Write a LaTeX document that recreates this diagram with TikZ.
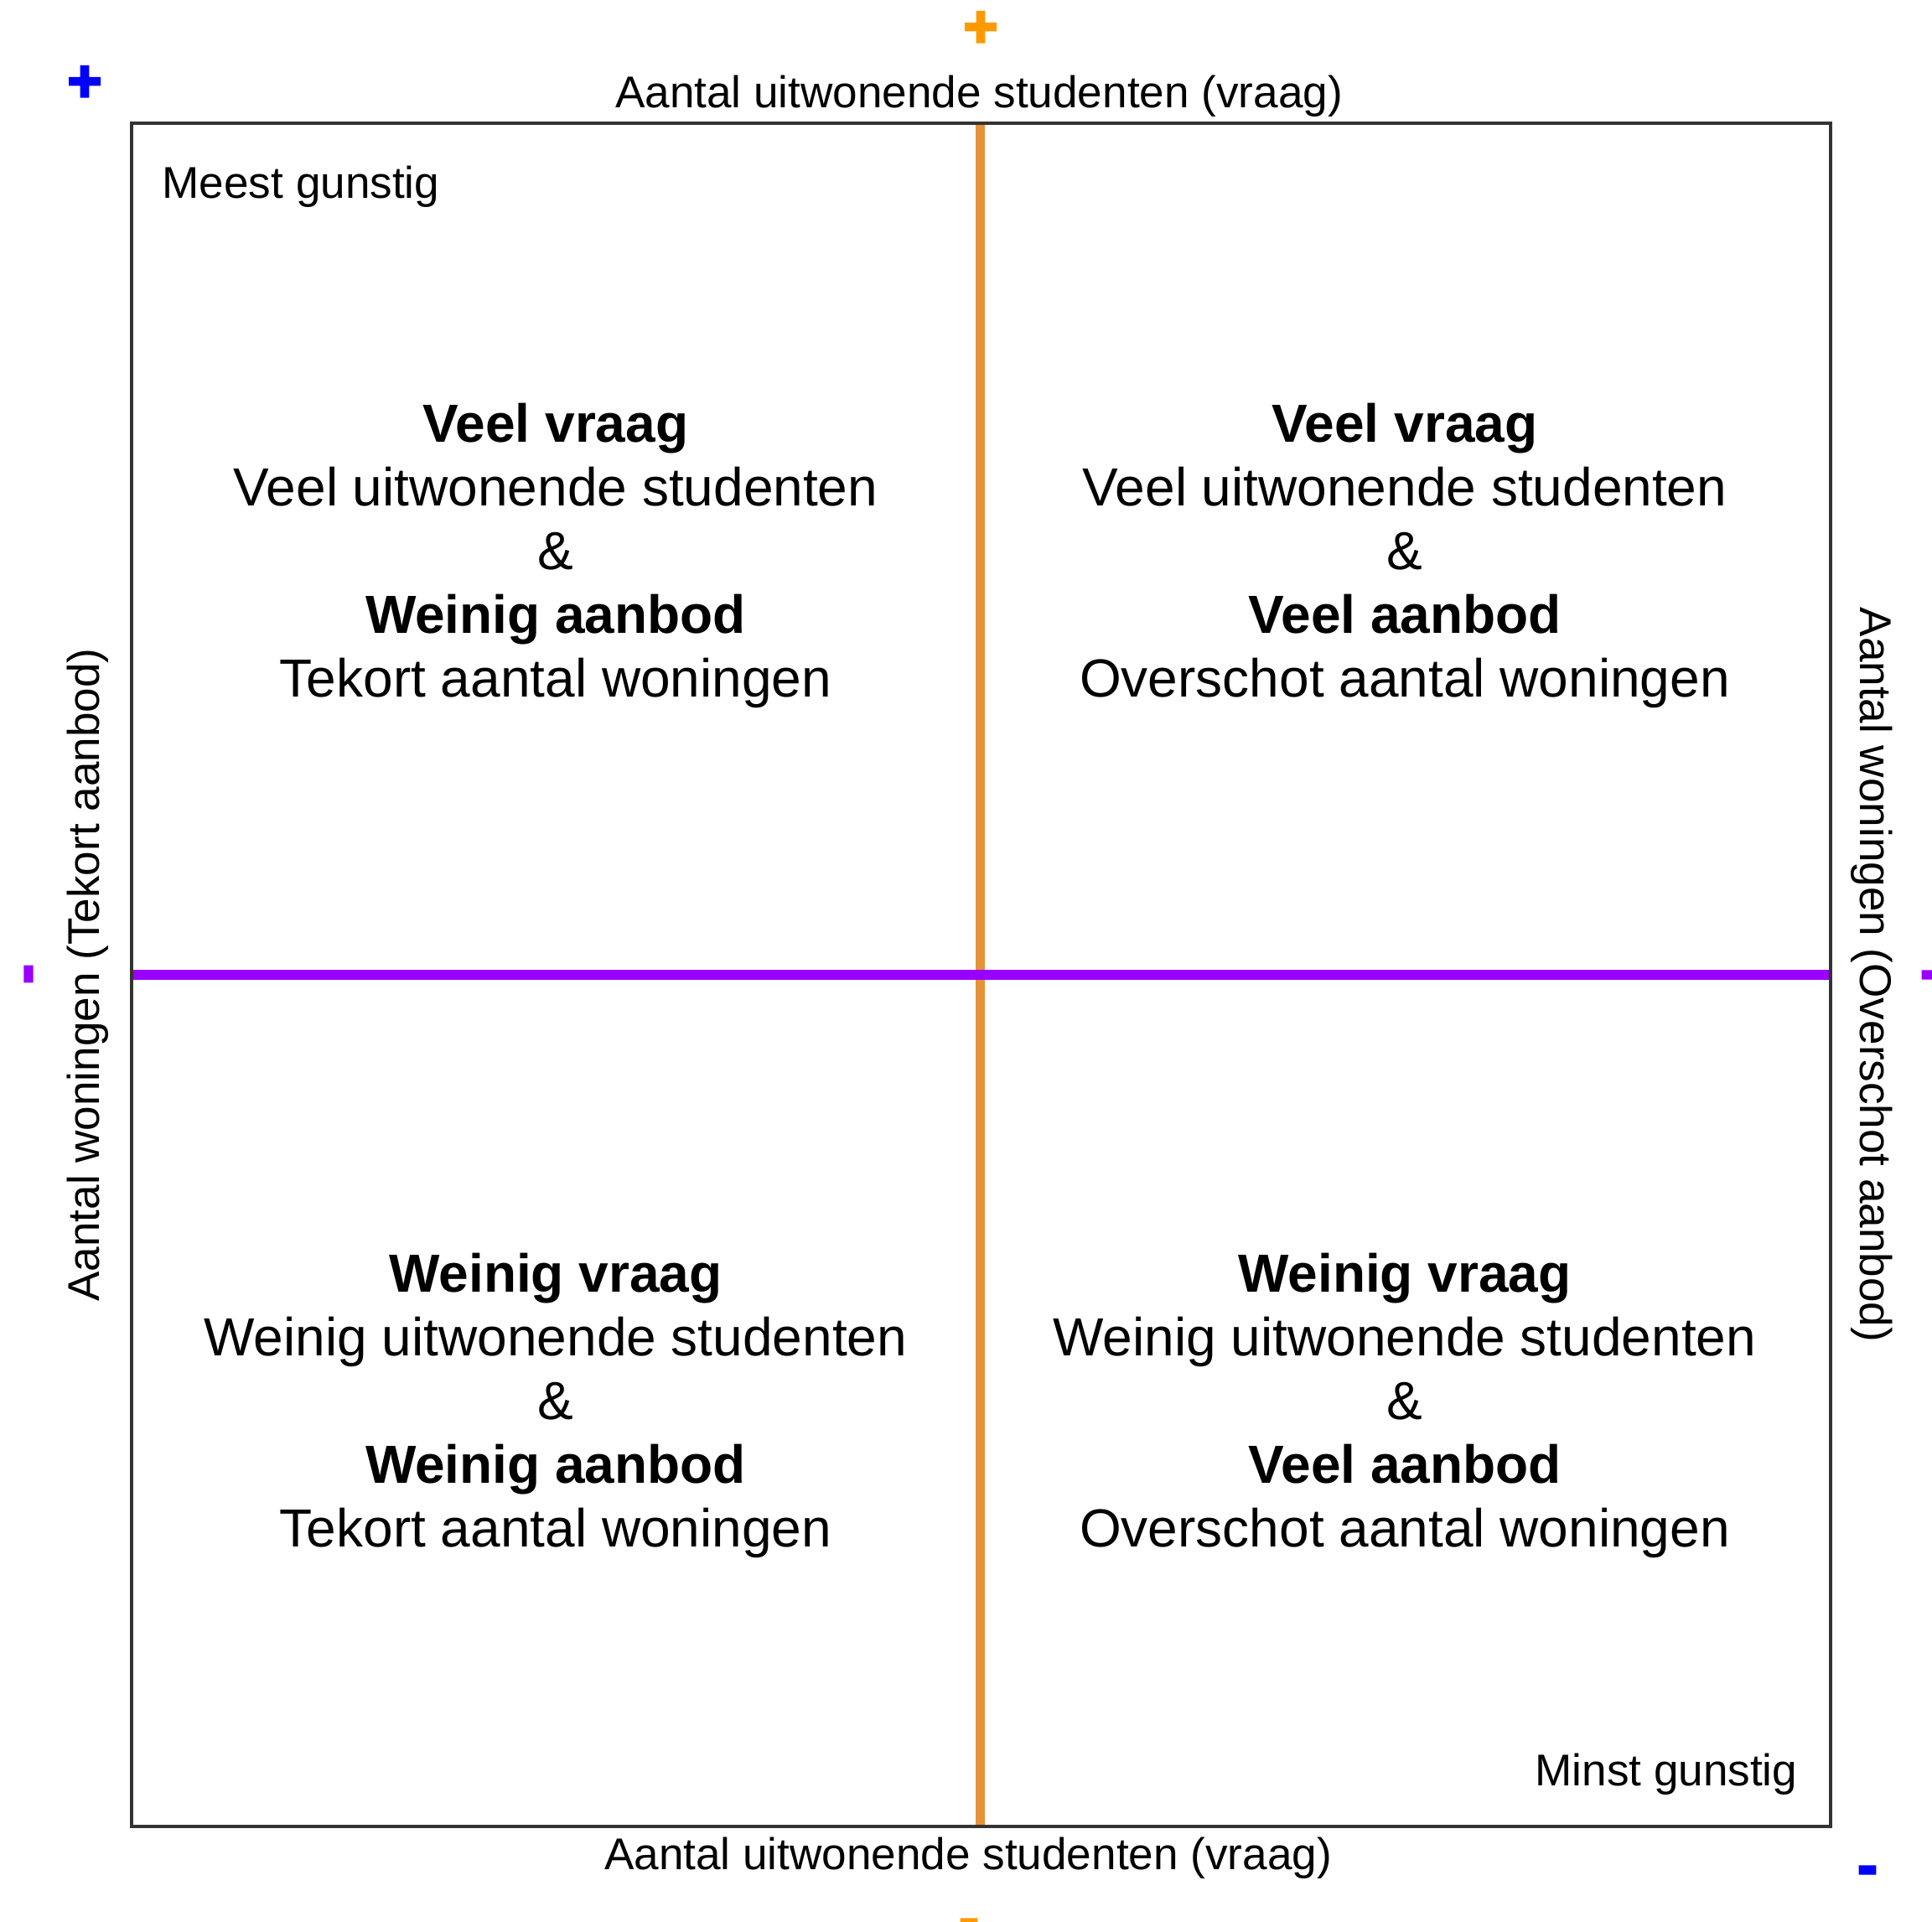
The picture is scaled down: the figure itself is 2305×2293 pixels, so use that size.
\documentclass[tikz,border=0pt]{standalone}
\usepackage{fontspec}
\setmainfont{Liberation Sans}
\newfontfamily\signfont{Liberation Sans}[FakeBold=4]

\definecolor{axisorange}{RGB}{230,146,56}
\definecolor{signorange}{RGB}{255,153,0}
\definecolor{axispurple}{RGB}{153,0,255}
\definecolor{signblue}{RGB}{0,0,255}

\tikzset{
  quadtext/.style={align=center, inner sep=0pt, font=\fontsize{18.2}{21.6}\selectfont},
  axislabel/.style={inner sep=0pt, font=\fontsize{15.1}{18}\selectfont},
  signmark/.style={inner sep=0pt, font=\signfont\bfseries\fontsize{20}{20}\selectfont},
}

\begin{document}
\begin{tikzpicture}[x=0.01cm, y=-0.01cm]
  \useasboundingbox (0,0) rectangle (2305,2293);

  % frame corners and axis end points
  \coordinate (nw) at (157,147);
  \coordinate (se) at (2184,2179);
  \coordinate (ntop) at (1169,147);
  \coordinate (nbot) at (1169,2179);
  \coordinate (wmid) at (157,1163);
  \coordinate (emid) at (2184,1163);

  % axes
  \draw[axisorange, line width=3.13pt] (ntop) -- (nbot);
  \draw[axispurple, line width=3.4pt] (wmid) -- (emid);
  % frame
  \draw[black!80, line width=1.15pt] (nw) rectangle (se);

  % axis labels
  \node[axislabel, anchor=base] (toplabel) at (1168,128) {Aantal uitwonende studenten (vraag)};
  \node[axislabel, anchor=base] (bottomlabel) at (1155,2230) {Aantal uitwonende studenten (vraag)};
  \node[axislabel, rotate=90, anchor=base] (leftlabel) at (118,1163) {Aantal woningen (Tekort aanbod)};
  \node[axislabel, rotate=-90, anchor=base] (rightlabel) at (2219,1163) {Aantal woningen (Overschot aanbod)};

  % corner remarks
  \node[axislabel, anchor=base west] (best) at (193,236) {Meest gunstig};
  \node[axislabel, anchor=base east] (worst) at (2145,2130) {Minst gunstig};

  % quadrants
  \node[quadtext] (qnw) at (663,663) {\textbf{Veel vraag}\\Veel uitwonende studenten\\\&\\\textbf{Weinig aanbod}\\Tekort aantal woningen};
  \node[quadtext] (qne) at (1676,663) {\textbf{Veel vraag}\\Veel uitwonende studenten\\\&\\\textbf{Veel aanbod}\\Overschot aantal woningen};
  \node[quadtext] (qsw) at (663,1677) {\textbf{Weinig vraag}\\Weinig uitwonende studenten\\\&\\\textbf{Weinig aanbod}\\Tekort aantal woningen};
  \node[quadtext] (qse) at (1676,1677) {\textbf{Weinig vraag}\\Weinig uitwonende studenten\\\&\\\textbf{Veel aanbod}\\Overschot aantal woningen};

  % plus and minus marks at the axis ends
  \node[signmark, text=signblue] (plusblue) at (101,100) {+};
  \node[signmark, text=signorange] (plusorange) at (1170,35) {+};
  \node[signmark, text=axispurple, rotate=90] (minuswest) at (41,1162) {-};
  \node[signmark, text=axispurple] (minuseast) at (2303,1170) {-};
  \node[signmark, text=signblue] (minusblue) at (2228,2238) {-};
  \node[signmark, text=signorange] (minusorange) at (1156,2301) {-};
\end{tikzpicture}
\end{document}
